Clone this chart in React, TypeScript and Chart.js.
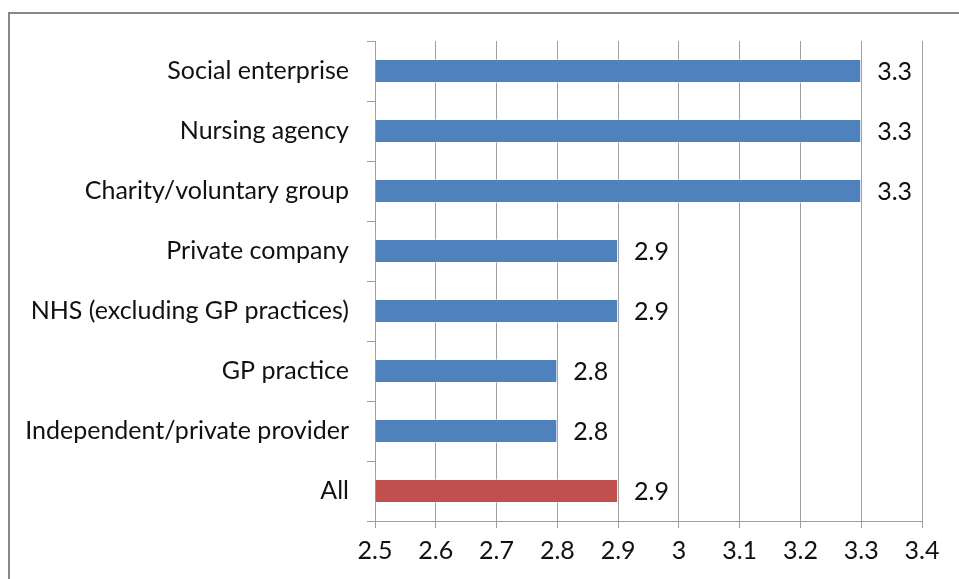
import React, { useEffect, useRef } from "react";
import { Chart, registerables } from "chart.js";

Chart.register(...registerables);

const categories = [
  "Social enterprise",
  "Nursing agency",
  "Charity/voluntary group",
  "Private company",
  "NHS (excluding GP practices)",
  "GP practice",
  "Independent/private provider",
  "All",
];
const values = [3.3, 3.3, 3.3, 2.9, 2.9, 2.8, 2.8, 2.9];
const valueLabels = ["3.3", "3.3", "3.3", "2.9", "2.9", "2.8", "2.8", "2.9"];
const barColors = ["#4F81BD", "#4F81BD", "#4F81BD", "#4F81BD", "#4F81BD", "#4F81BD", "#4F81BD", "#C0504D"];
const xTickLabels = ["2.5", "2.6", "2.7", "2.8", "2.9", "3", "3.1", "3.2", "3.3", "3.4"];

const FONT_FAMILY = "Lato, 'Noto Sans', sans-serif";
const FONT_SIZE = 25;

const valueLabelPlugin = {
  id: "valueLabels",
  afterDatasetsDraw(chart: any) {
    const ctx = chart.ctx;
    const meta = chart.getDatasetMeta(0);
    ctx.save();
    ctx.font = `${FONT_SIZE}px ${FONT_FAMILY}`;
    ctx.fillStyle = "#111";
    ctx.textAlign = "left";
    ctx.textBaseline = "middle";
    meta.data.forEach((bar: any, i: number) => {
      ctx.fillText(valueLabels[i], bar.x + 16, bar.y + 1);
    });
    ctx.restore();
  },
};

export default function App() {
  const ref = useRef<HTMLCanvasElement>(null);
  useEffect(() => {
    if (!ref.current) return;
    const chart = new Chart(ref.current, {
      type: "bar",
      data: {
        labels: categories,
        datasets: [
          {
            data: values,
            backgroundColor: barColors,
            borderColor: "rgba(255,255,255,0.45)",
            borderWidth: 1,
            base: 2.5,
            barPercentage: 0.4,
            categoryPercentage: 1,
          } as any,
        ],
      },
      options: {
        indexAxis: "y",
        animation: false,
        responsive: false,
        maintainAspectRatio: false,
        layout: { padding: { top: 41, right: 37, left: 0, bottom: 0 } },
        plugins: { legend: { display: false }, tooltip: { enabled: false } },
        scales: {
          x: {
            min: 2.5,
            max: 3.4,
            ticks: {
              stepSize: 0.1,
              color: "#111",
              font: { family: FONT_FAMILY, size: FONT_SIZE },
              padding: 8,
              callback: (_v: any, i: number) => xTickLabels[i],
            },
            grid: { color: "#A0A0A0", tickLength: 7, lineWidth: 1 },
            border: { color: "#A0A0A0" },
            afterFit: (scale: any) => {
              scale.height = 58;
            },
          },
          y: {
            offset: true,
            ticks: {
              color: "#111",
              font: { family: FONT_FAMILY, size: FONT_SIZE },
              padding: 18,
            },
            grid: { drawOnChartArea: false, color: "#A0A0A0", tickLength: 8, offset: true },
            border: { color: "#A0A0A0" },
            afterFit: (scale: any) => {
              scale.width = 375;
            },
          },
        },
      },
      plugins: [valueLabelPlugin],
    });
    return () => chart.destroy();
  }, []);

  return (
    <div style={{ position: "fixed", left: 0, top: 0, width: 959, height: 579, overflow: "hidden", background: "#fff" }}>
      <div
        style={{
          position: "absolute",
          left: 8,
          top: 12,
          width: 1000,
          height: 700,
          border: "2px solid #878787",
          boxSizing: "border-box",
        }}
      />
      <canvas ref={ref} width={959} height={579} style={{ position: "absolute", left: 0, top: 0 }} />
    </div>
  );
}
